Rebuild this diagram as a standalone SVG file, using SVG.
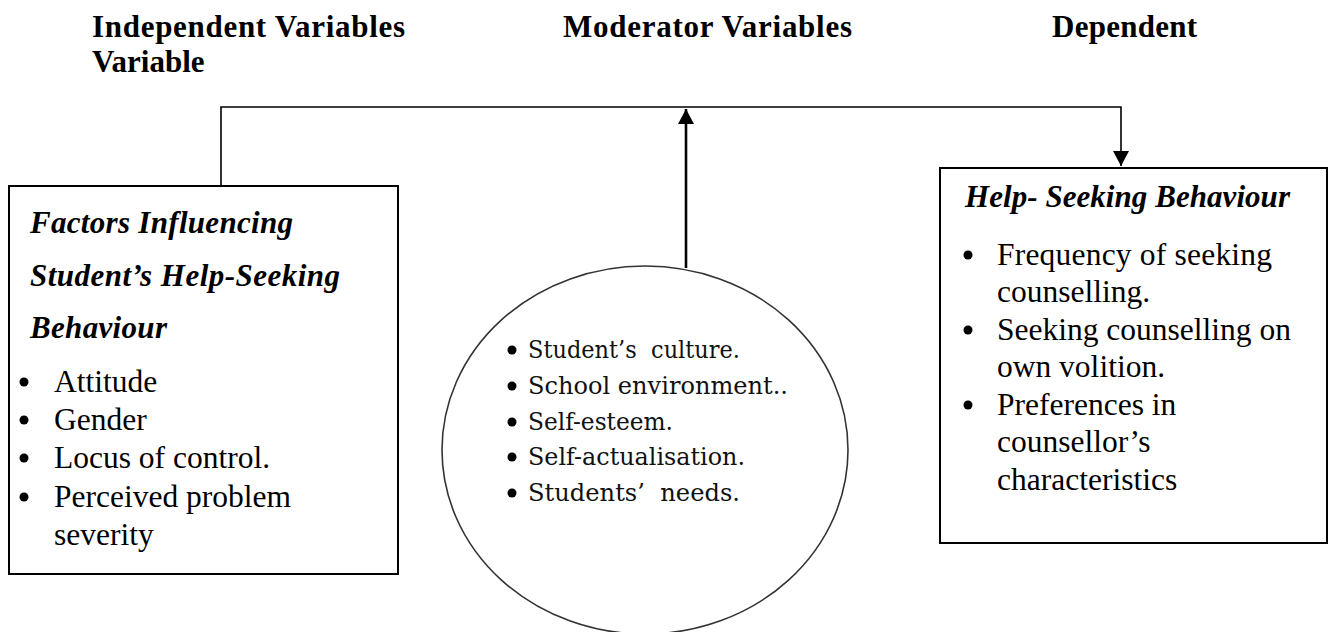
<svg xmlns="http://www.w3.org/2000/svg" width="1332" height="632" viewBox="0 0 1332 632">
<style>
.hdr{font-family:"Liberation Serif","Times New Roman",serif;font-weight:bold;font-size:31px;fill:#000}
.ttl{font-family:"Liberation Serif","Times New Roman",serif;font-weight:bold;font-style:italic;font-size:31px;fill:#000}
.txt{font-family:"Liberation Serif","Times New Roman",serif;font-size:31.5px;fill:#000}
.etxt{font-family:"DejaVu Serif","Liberation Serif",serif;font-size:23.5px;fill:#111}
.box{fill:#fff;stroke:#000;stroke-width:2}
.ell{fill:#fff;stroke:#333;stroke-width:1.6}
.bul{fill:#000}
.conn{fill:none;stroke:#000;stroke-width:1.6}
.arr{fill:none;stroke:#000;stroke-width:2.6}
</style>
<defs>
<marker id="ah" markerWidth="16" markerHeight="16" refX="15" refY="8" orient="auto" markerUnits="userSpaceOnUse">
<path d="M0,0 L15,8 L0,16 Z" fill="#000"/>
</marker>
</defs>
<g id="headers">
<text class="hdr" x="92" y="37" textLength="313">Independent Variables</text>
<text class="hdr" x="92" y="72">Variable</text>
<text class="hdr" x="563" y="37" textLength="289">Moderator Variables</text>
<text class="hdr" x="1052" y="37" textLength="145">Dependent</text>
</g>
<g id="connectors">
<path class="conn" d="M221,186 V107 H1121 V166" marker-end="url(#ah)"/>
<path class="arr" d="M686,268 V109" marker-end="url(#ah)"/>
</g>
<g id="independent">
<rect class="box" x="9" y="186" width="389" height="388"/>
<text class="ttl" x="30" y="233" textLength="263">Factors Influencing</text>
<text class="ttl" x="30" y="286" textLength="310">Student’s Help-Seeking</text>
<text class="ttl" x="30" y="338" textLength="137">Behaviour</text>
<circle class="bul" cx="24" cy="382" r="4.5"/>
<text class="txt" x="54" y="392">Attitude</text>
<circle class="bul" cx="24" cy="420" r="4.5"/>
<text class="txt" x="54" y="430">Gender</text>
<circle class="bul" cx="24" cy="458" r="4.5"/>
<text class="txt" x="54" y="468">Locus of control.</text>
<circle class="bul" cx="24" cy="497" r="4.5"/>
<text class="txt" x="54" y="507">Perceived problem</text>
<text class="txt" x="54" y="545">severity</text>
</g>
<g id="moderator">
<ellipse class="ell" cx="645" cy="450" rx="203" ry="184"/>
<circle class="bul" cx="512" cy="350" r="4.5"/>
<text class="etxt" x="528" y="358" textLength="212" lengthAdjust="spacingAndGlyphs" xml:space="preserve">Student’s  culture.</text>
<circle class="bul" cx="512" cy="386" r="4.5"/>
<text class="etxt" x="528" y="394" textLength="260" lengthAdjust="spacingAndGlyphs">School environment..</text>
<circle class="bul" cx="512" cy="422" r="4.5"/>
<text class="etxt" x="528" y="430" textLength="145" lengthAdjust="spacingAndGlyphs">Self-esteem.</text>
<circle class="bul" cx="512" cy="457" r="4.5"/>
<text class="etxt" x="528" y="465" textLength="217" lengthAdjust="spacingAndGlyphs">Self-actualisation.</text>
<circle class="bul" cx="512" cy="493" r="4.5"/>
<text class="etxt" x="528" y="501" textLength="212" lengthAdjust="spacingAndGlyphs" xml:space="preserve">Students’  needs.</text>
</g>
<g id="dependent">
<rect class="box" x="940" y="168" width="387" height="375"/>
<text class="ttl" x="965" y="207" textLength="325">Help- Seeking Behaviour</text>
<circle class="bul" cx="968" cy="255" r="4.5"/>
<text class="txt" x="997" y="265" textLength="275">Frequency of seeking</text>
<text class="txt" x="997" y="302">counselling.</text>
<circle class="bul" cx="968" cy="330" r="4.5"/>
<text class="txt" x="997" y="340">Seeking counselling on</text>
<text class="txt" x="997" y="377">own volition.</text>
<circle class="bul" cx="968" cy="405" r="4.5"/>
<text class="txt" x="997" y="415">Preferences in</text>
<text class="txt" x="997" y="452">counsellor’s</text>
<text class="txt" x="997" y="490">characteristics</text>
</g>
</svg>
